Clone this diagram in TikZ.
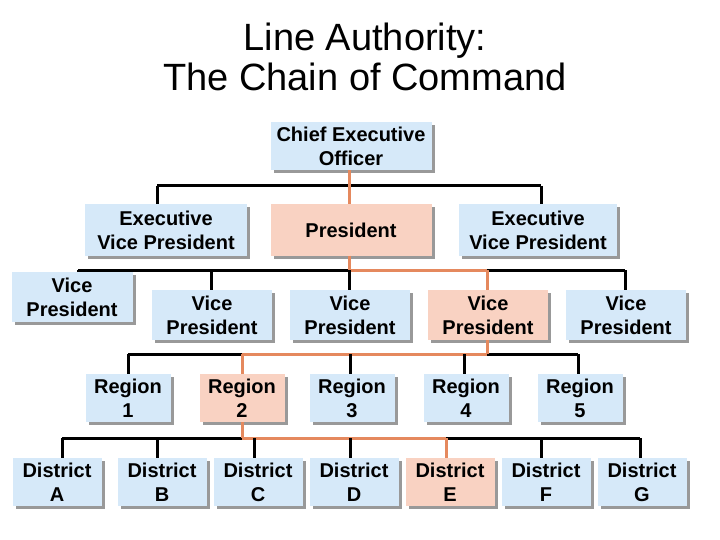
\documentclass[tikz,border=0pt]{standalone}
\usepackage{fontspec}
\setmainfont{Liberation Sans}
\usetikzlibrary{shadows}
\definecolor{bl}{HTML}{D6E9F9}
\definecolor{orf}{HTML}{F9D2C2}
\definecolor{orl}{HTML}{E5895E}
\tikzset{
 box/.style={fill=bl,draw=none,align=center,font=\bfseries\fontsize{20}{24}\selectfont,inner sep=0pt,
   general shadow={fill=gray!80,shadow xshift=3pt,shadow yshift=-3pt}},
 hl/.style={box,fill=orf},
 bk/.style={line width=3pt,draw=black},
 og/.style={line width=3pt,draw=orl}
}
\begin{document}
\begin{tikzpicture}[x=1pt,y=-1pt]
\useasboundingbox (0,0) rectangle (720,540);
\node[font=\fontsize{38}{40}\selectfont,align=center] (t) at (365,57) {Line Authority:\\The Chain of Command};
% level 0
\node[box,minimum width=161,minimum height=48] (ceo) at (351,146) {Chief Executive\\Officer};
% level 1
\node[box,minimum width=162,minimum height=51] (evl) at (166,230) {Executive\\Vice President};
\node[hl,minimum width=161,minimum height=51] (pres) at (351,230) {President};
\node[box,minimum width=158,minimum height=51] (evr) at (538,230) {Executive\\Vice President};
% level 2
\node[box,minimum width=121,minimum height=50] (vp1) at (72,297) {Vice\\President};
\node[box,minimum width=120,minimum height=50] (vp2) at (212,315) {Vice\\President};
\node[box,minimum width=120,minimum height=50] (vp3) at (350,315) {Vice\\President};
\node[hl,minimum width=120,minimum height=50] (vp4) at (488,315) {Vice\\President};
\node[box,minimum width=120,minimum height=50] (vp5) at (626,315) {Vice\\President};
% level 3
\foreach \n/\x/\s in {1/128/box,2/242/hl,3/352/box,4/466/box,5/580/box}
  \node[\s,minimum width=85,minimum height=48] (r\n) at (\x,398) {Region\\\n};
% level 4
\foreach \n/\x/\s in {A/57/box,B/162/box,C/258/box,D/354/box,E/450/hl,F/546/box,G/642/box}
  \node[\s,minimum width=89,minimum height=48] (d\n) at (\x,482) {District\\\n};
% coordinates
\coordinate (b1l) at (157,186); \coordinate (b1m) at (349,186); \coordinate (b1r) at (541,186);
\coordinate (b2a) at (78,270); \coordinate (b2b) at (211,270); \coordinate (b2c) at (349,270);
\coordinate (b2d) at (487,270); \coordinate (b2e) at (625,270);
\coordinate (b3a) at (128,354); \coordinate (b3b) at (242,354); \coordinate (b3c) at (350,354);
\coordinate (b3d) at (464,354); \coordinate (b3e) at (578,354); \coordinate (b3v) at (487,354);
\coordinate (b4a) at (62,438); \coordinate (b4b) at (157,438); \coordinate (b4c) at (254,438);
\coordinate (b4d) at (350,438); \coordinate (b4e) at (446,438); \coordinate (b4f) at (541,438);
\coordinate (b4g) at (640,438); \coordinate (b4r) at (242,438);
% bus 1
\draw[bk] (b1l) -- (b1r);
\draw[bk] (b1l) -- (b1l |- evl.north);
\draw[bk] (b1r) -- (b1r |- evr.north);
\draw[og] (b1m |- ceo.south) -- (b1m |- pres.north);
% bus 2
\draw[bk] (b2a) -- (b2c);
\draw[bk] (b2d) -- (b2e);
\draw[og] (b2c) -- (b2d);
\draw[og] (b2c |- pres.south) -- (b2c);
\draw[bk] (b2a) -- (b2a |- vp1.north);
\draw[bk] (b2b) -- (b2b |- vp2.north);
\draw[bk] (b2c) -- (b2c |- vp3.north);
\draw[og] (b2d) -- (b2d |- vp4.north);
\draw[bk] (b2e) -- (b2e |- vp5.north);
% bus 3
\draw[bk] (b3a) -- (b3b);
\draw[bk] (b3v) -- (b3e);
\draw[og] (b3b) -- (b3v);
\draw[og] (b3v |- vp4.south) -- (b3v);
\draw[bk] (b3a) -- (r1.north);
\draw[og] (b3b) -- (r2.north);
\draw[bk] (b3c) -- (b3c |- r3.north);
\draw[bk] (b3d) -- (b3d |- r4.north);
\draw[bk] (b3e) -- (b3e |- r5.north);
% bus 4
\draw[bk] (b4a) -- (b4r);
\draw[bk] (b4e) -- (b4g);
\draw[og] (b4r) -- (b4e);
\draw[og] (r2.south) -- (b4r);
\draw[bk] (b4a) -- (b4a |- dA.north);
\draw[bk] (b4b) -- (b4b |- dB.north);
\draw[bk] (b4c) -- (b4c |- dC.north);
\draw[bk] (b4d) -- (b4d |- dD.north);
\draw[og] (b4e) -- (b4e |- dE.north);
\draw[bk] (b4f) -- (b4f |- dF.north);
\draw[bk] (b4g) -- (b4g |- dG.north);
\end{tikzpicture}
\end{document}
